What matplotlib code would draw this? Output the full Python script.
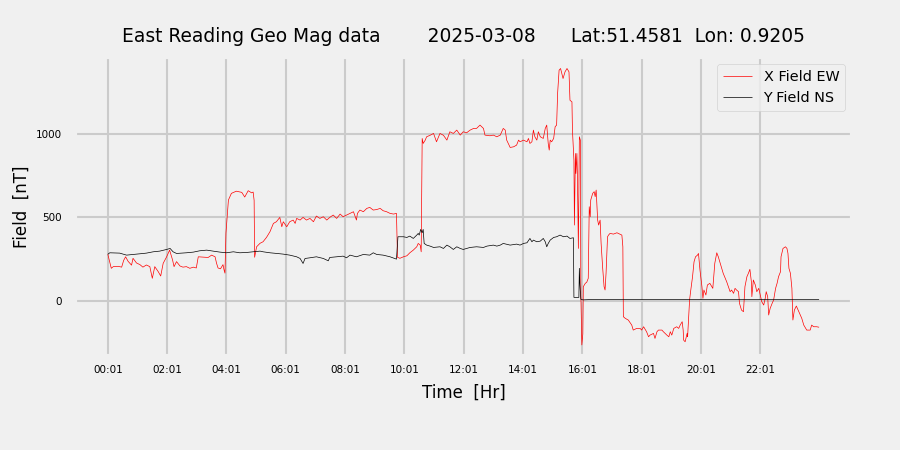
import matplotlib
matplotlib.use("Agg")
import matplotlib.pyplot as plt
import numpy as np

# ---- data (minute of day, nT) ----
x_min = [1, 8, 12, 22, 29, 33, 37, 42, 49, 52, 59, 66, 72, 79, 86, 91, 96, 103, 108, 113,
         120, 126, 132, 135, 140, 147, 153, 160, 167, 174, 180, 184, 194, 204, 211, 218, 221, 224,
         229, 234, 236, 238, 240, 245, 251, 261, 272, 278, 285, 292, 295, 297, 298,
         302, 309, 315, 322, 329, 336, 342, 349, 353, 356, 363, 369, 376, 380, 383, 390, 396,
         403, 410, 417, 423, 430, 437, 444, 450, 457, 464, 471, 477, 484, 491, 498, 504, 506,
         511, 518, 525, 531, 538, 545, 552, 558, 565, 572, 579, 585, 587,
         592, 599, 606, 612, 619, 626, 629, 633, 635, 637, 639, 643, 646, 653, 660, 666, 673,
         680, 687, 693, 700, 707, 714, 720, 727, 734, 741, 747, 754, 761, 764, 774, 781, 788,
         795, 801, 805, 808, 815, 822, 828, 832, 835, 842, 849, 852, 855, 859, 862, 865, 869,
         872, 876, 882, 886, 889, 892, 894, 896, 899, 903, 906, 909, 911, 914, 917, 922, 926,
         930, 934, 936, 940, 941, 942, 944, 945, 947, 948, 950, 951, 953, 955, 957, 958, 960,
         962, 963, 967, 970, 973, 975, 977, 978, 982, 985, 987, 989, 992, 994, 997, 999, 1002,
         1005, 1007, 1009, 1012, 1014, 1017, 1024, 1031, 1037, 1041, 1043, 1044, 1048, 1054,
         1061, 1064, 1071, 1078, 1081, 1085, 1091, 1095, 1098, 1105, 1108, 1112, 1115, 1122,
         1125, 1132, 1136, 1139, 1142, 1146, 1152, 1156, 1159, 1163, 1165, 1166, 1169, 1173,
         1174, 1178, 1180, 1184, 1187, 1190, 1194, 1196, 1199, 1203, 1205, 1207, 1211, 1214,
         1219, 1225, 1229, 1233, 1236, 1239, 1246, 1253, 1260, 1263, 1267, 1270, 1273, 1277,
         1279, 1283, 1287, 1290, 1294, 1297, 1300, 1303, 1304, 1307, 1311, 1314, 1318, 1321,
         1324, 1328, 1331, 1333, 1336, 1338, 1341, 1345, 1348, 1352, 1355, 1358, 1362, 1363,
         1367, 1372, 1375, 1377, 1379, 1382, 1385, 1387, 1390, 1394, 1399, 1402, 1405, 1409,
         1415, 1422, 1425, 1429, 1435, 1440]
x_field = [277, 193, 203, 205, 200, 240, 262, 235, 212, 253, 225, 215, 200, 213, 203, 133, 203, 173, 147, 223,
           262, 302, 243, 203, 233, 207, 200, 203, 193, 200, 195, 262, 260, 258, 272, 262, 223, 195,
           190, 215, 185, 164, 404, 602, 642, 655, 648, 620, 658, 645, 650, 600, 259,
           322, 343, 352, 378, 412, 462, 472, 498, 442, 472, 442, 472, 482, 462, 492, 482, 498,
           482, 492, 472, 506, 492, 502, 482, 498, 512, 492, 518, 502, 512, 522, 532, 482, 522,
           542, 532, 552, 558, 542, 545, 552, 538, 532, 522, 518, 522, 259,
           253, 262, 268, 286, 302, 322, 342, 332, 292, 971, 941, 960, 981, 990, 1001, 951, 1001,
           990, 961, 1011, 1001, 1021, 991, 1011, 1005, 1021, 1031, 1031, 1051, 1031, 991, 987, 991, 981,
           991, 1031, 1021, 961, 917, 921, 931, 961, 951, 961, 951, 971, 941, 951, 1021, 981, 961,
           1011, 981, 971, 1031, 1051, 941, 901, 961, 951, 971, 1041, 1051, 1241, 1380, 1390, 1330, 1370,
           1390, 1370, 1200, 1190, 1021, 961, 841, 452, 881, 761, 881, 762, 312, 981, 961, 43, -266,
           -200, 83, 103, 110, 133, 562, 502, 602, 642, 652, 622, 662, 482, 452, 482, 342, 202,
           83, 63, 163, 382, 392, 402, 398, 406, 398, 392, 322, -97, -107, -117,
           -147, -177, -167, -167, -177, -157, -187, -217, -207, -197, -227, -187, -177, -177,
           -187, -207, -217, -187, -207, -167, -157, -167, -147, -127, -177, -237, -247, -197,
           -217, 3, 53, 143, 232, 262, 272, 282, 183, 83, 13, 63, 33, 93,
           103, 73, 223, 286, 263, 233, 163, 113, 53, 63, 43, 73, 63, 53,
           -17, -57, -67, 83, 143, 163, 187, 113, 23, 123, 93, 53, 73, 33,
           -7, -27, 13, 53, 23, -87, -47, -17, 3, 73, 103, 143, 173, 262,
           312, 322, 312, 283, 193, 163, 73, -117, -57, -33, -67, -87, -107, -147,
           -177, -177, -147, -157, -157, -160]

y_min = [1, 5, 25, 39, 52, 66, 79, 93, 106, 120, 127, 133, 140, 160, 174, 187, 201, 214, 228,
         241, 255, 268, 282, 295, 309, 315, 329, 343, 356, 369, 383, 390, 396, 400, 410, 423,
         437, 447, 450, 464, 477, 484, 491, 504, 518, 531, 538, 545, 558, 572, 585, 588,
         599, 606, 612, 619, 626, 629, 631, 634, 637, 639, 641, 646, 653, 660, 673, 680, 687,
         693, 700, 707, 714, 720, 734, 747, 761, 768, 781, 788, 795, 801, 815, 828, 835, 842,
         849, 855, 859, 862, 869, 876, 882, 886, 889, 892, 896, 903, 909, 916, 923, 930, 936,
         943, 944, 954, 955, 956, 958, 959, 962, 980, 1000, 1100, 1200, 1300, 1440]
y_field = [277, 286, 284, 272, 276, 280, 284, 292, 296, 306, 312, 292, 282, 286, 290, 298, 302, 296, 290,
           286, 292, 286, 288, 292, 296, 292, 286, 282, 278, 272, 262, 252, 222, 252, 256, 262,
           252, 238, 258, 262, 266, 256, 272, 262, 276, 272, 286, 276, 272, 262, 248, 382,
           382, 378, 386, 372, 392, 402, 392, 426, 406, 426, 342, 332, 326, 318, 322, 312, 332,
           322, 306, 322, 312, 306, 318, 322, 318, 326, 332, 326, 332, 342, 332, 338, 332, 342,
           346, 372, 352, 362, 352, 356, 372, 352, 322, 342, 362, 378, 382, 392, 382, 386, 372,
           376, 19, 19, 193, 100, 7, 7, 4, 6, 7, 7, 7, 7, 7]

tick_labels = ["00:01", "02:01", "04:01", "06:01", "08:01", "10:01",
               "12:01", "14:01", "16:01", "18:01", "20:01", "22:01"]
tick_minutes = [1, 121, 241, 361, 481, 601, 721, 841, 961, 1081, 1201, 1321]

plt.style.use("fivethirtyeight")
plt.rcParams["font.family"] = ["DejaVu Sans"]
plt.rcParams["grid.linewidth"] = 1.5

fig = plt.figure(figsize=(9, 4.5), dpi=100)
ax = fig.add_subplot(111)
fig.subplots_adjust(left=0.083, right=0.947, top=0.873, bottom=0.209)

xh = np.array(x_min) / 60.0
yh = np.array(y_min) / 60.0
ax.plot(xh, x_field, color="red", linewidth=0.5, label="X Field EW")
ax.plot(yh, y_field, color="black", linewidth=0.5, label="Y Field NS")

ax.set_xlim(-1.10, 25.12)
ax.set_ylim(-332, 1458)
ax.set_xticks(np.array(tick_minutes) / 60.0)
ax.set_xticklabels(tick_labels)
ax.set_yticks([0, 500, 1000])
ax.tick_params(axis="x", labelsize=7.5, pad=6.5)
ax.tick_params(axis="y", labelsize=7.5, pad=9)

ax.set_xlabel("Time  [Hr]", fontsize=12, labelpad=6)
ax.set_ylabel("Field  [nT]", fontsize=12)
ax.set_title("East Reading Geo Mag data        2025-03-08      Lat:51.4581  Lon: 0.9205",
             fontsize=13.4, pad=11)
ax.legend(loc="upper right", fontsize=10.4)

fig.savefig("out.png", dpi=100)
